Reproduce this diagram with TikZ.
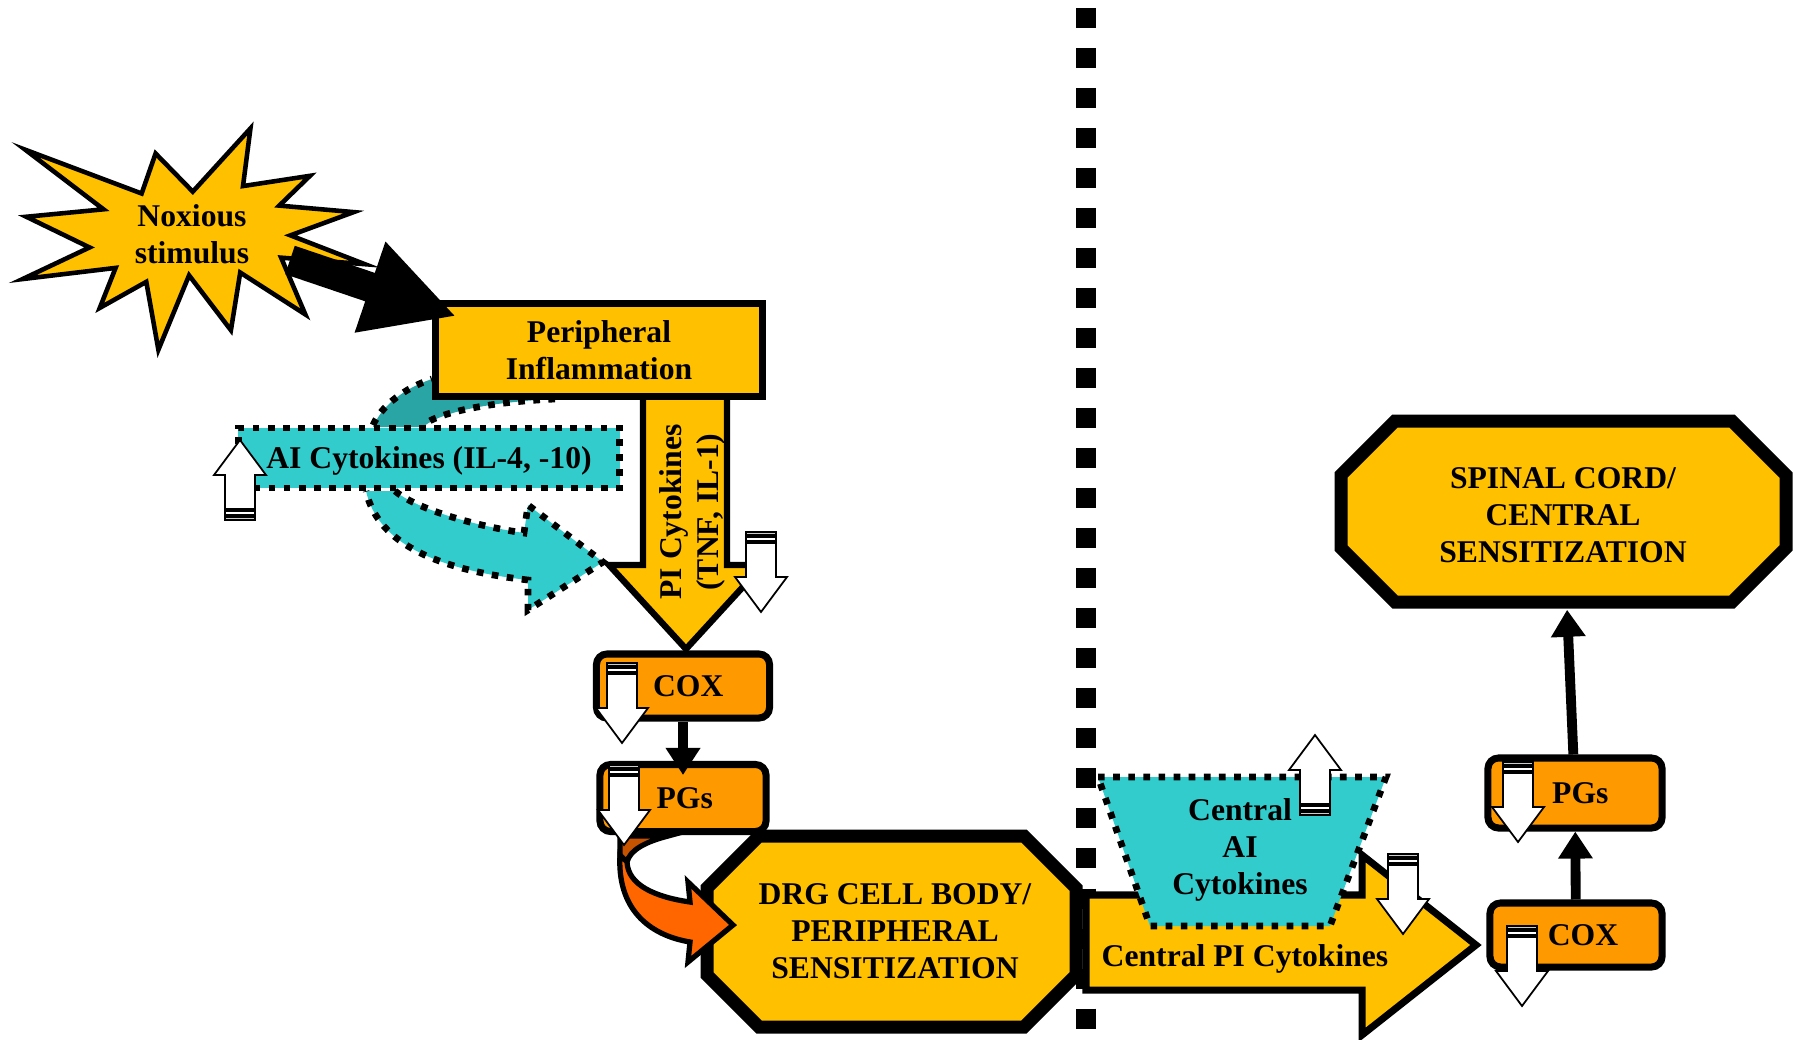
\documentclass[tikz,border=0pt]{standalone}
\usepackage{fontspec}
\setmainfont{Liberation Serif}
\usepackage{xcolor}
\usetikzlibrary{arrows.meta}

\definecolor{amber}{HTML}{FFC000}
\definecolor{coxorange}{HTML}{FF9900}
\definecolor{aicyan}{HTML}{33CCCC}
\definecolor{aiteal}{HTML}{2AA5A5}
\definecolor{curveorange}{HTML}{FF6600}
\definecolor{curvedark}{HTML}{C65300}

\tikzset{
  lbl/.style={font=\bfseries\fontsize{9}{10.5}\selectfont,align=center,inner sep=0pt},
  goldbox/.style={draw,fill=amber,line width=1.8pt},
  orangebox/.style={lbl,draw,fill=coxorange,line width=2pt,rounded corners=3pt},
  dotline/.style={line width=1.9pt,dash pattern=on 1.9pt off 2.4pt},
  octo/.style={draw,fill=amber,line width=3.7pt},
  blkarrow/.style={line width=2.8pt,-{Triangle[length=0.27cm,width=0.33cm]}},
  lvlarrow/.pic={
    \draw[fill=gray!40,line width=0.5pt] (-15,0) rectangle (15,3);
    \draw[fill=white,line width=0.5pt] (-15,5) rectangle (15,9);
    \draw[fill=white,line width=0.5pt] (-15,11) -- (15,11) -- (15,45) -- (26,45)
      -- (0,80) -- (-26,45) -- (-15,45) -- cycle;
  }
}

\begin{document}
\begin{tikzpicture}[x=0.01cm,y=-0.01cm,line join=miter]
  \useasboundingbox (0,0) rectangle (1800,1039);

  \draw[line width=0.2cm,dash pattern=on 0.2cm off 0.2cm] (1086,8) -- (1086,1030);

  % noxious stimulus
  \draw[fill=amber,line width=1.3pt,scale around={0.93:(190,240)}]
    (13,143) -- (138,190) -- (153,147) -- (193,188)
    -- (255,120) -- (247,182) -- (319,171) -- (286,203) -- (366,210) -- (298,235)
    -- (378,266) -- (288,259) -- (314,320) -- (244,275) -- (234,337) -- (189,278)
    -- (156,358) -- (143,285) -- (93,313) -- (110,270) -- (10,282) -- (82,248)
    -- (14,215) -- (97,207) -- cycle;
  \node[lbl] (noxious) at (192,234) {Noxious\\stimulus};

  % peripheral side
  \draw[goldbox] (643,390) -- (643,565) -- (609,565) -- (686,649) -- (763,565)
    -- (727,565) -- (727,390) -- cycle;
  \fill[aiteal] (373,427) .. controls (382,405) and (405,388) .. (432,379)
    -- (432,370) -- (560,370) -- (560,399) -- (555,399)
    .. controls (490,402) and (440,412) .. (423,427) -- cycle;
  \draw[dotline] (373,425) .. controls (382,405) and (405,388) .. (432,379);
  \draw[dotline] (555,399) .. controls (490,402) and (440,412) .. (423,425);
  \filldraw[fill=aicyan,dotline] (395,491) .. controls (415,508) and (470,525) .. (524,533)
    -- (528,505) -- (603,562) -- (528,610) -- (528,580)
    .. controls (440,570) and (378,545) .. (366,491);
  \node[lbl,draw,fill=aicyan,dotline,minimum width=3.81cm,minimum height=0.6cm,text depth=0pt]
    (aicyto) at (429,458) {AI Cytokines (IL-4, -10)};
  \node[lbl,goldbox,minimum width=3.27cm,minimum height=0.93cm]
    (periph) at (599,350) {Peripheral\\Inflammation};
  \coordinate (stimtail) at (290,260);
  \draw[line width=0.3cm,-{Triangle[length=0.91cm,width=0.89cm]}]
    (stimtail) -- ([xshift=0.24cm,yshift=-0.16cm]periph.north west);
  \node[lbl,rotate=90] (picyto) at (692,512) {PI Cytokines\\(TNF, IL-1)};

  \node[orangebox,minimum width=1.73cm,minimum height=0.64cm] (coxL) at (683,686) {\hspace*{3pt}COX};
  \node[orangebox,minimum width=1.66cm,minimum height=0.67cm] (pgsL) at (683,798) {\hspace*{1pt}PGs};
  \draw[blkarrow,shorten >=-0.14cm] (coxL) -- (pgsL);

  \draw[octo] (707,888) -- (759,836) -- (1024,836) -- (1076,888) -- (1076,975)
    -- (1024,1027) -- (759,1027) -- (707,975) -- cycle;
  \node[lbl] (drg) at (895,931) {DRG CELL BODY/\\PERIPHERAL\\SENSITIZATION};

  \draw[fill=curvedark,line width=1.5pt] (620,836) -- (668,836)
    .. controls (645,842) and (630,850) .. (627,862) -- (620,862) -- cycle;
  \draw[fill=curveorange,line width=1.5pt] (620,855) .. controls (617,908) and (648,935) .. (690,942)
    -- (688,962) -- (733,925) -- (688,882) -- (690,902)
    .. controls (655,897) and (628,885) .. (627,862) -- cycle;

  % central side
  \draw[goldbox,line width=2pt] (1086,895) -- (1362,895) -- (1362,855) -- (1476,945)
    -- (1362,1035) -- (1362,990) -- (1086,990) -- cycle;
  \node[lbl] (cpicyto) at (1245,959) {Central PI Cytokines};
  \filldraw[fill=aicyan,dotline] (1098,777) -- (1386,777) -- (1330,926) -- (1150,926) -- cycle;
  \node[lbl] (caicyto) at (1240,850) {Central\\AI\\Cytokines};

  \node[orangebox,minimum width=1.72cm,minimum height=0.64cm] (coxR) at (1576,935) {\hspace*{4pt}COX};
  \node[orangebox,minimum width=1.74cm,minimum height=0.70cm] (pgsR) at (1575,793) {\hspace*{3pt}PGs};
  \draw[octo] (1341,475) -- (1395,421) -- (1732,421) -- (1786,475) -- (1786,548)
    -- (1732,602) -- (1395,602) -- (1341,548) -- cycle;
  \node[lbl,minimum width=4.4cm,minimum height=1.88cm] (spinal) at (1563,515)
    {SPINAL CORD/\\CENTRAL\\SENSITIZATION};
  \draw[blkarrow] (coxR) -- (pgsR);
  \draw[blkarrow] (pgsR) -- (spinal);

  % up / down markers
  \foreach \x/\y in {761/532,622/663,624/765,1403/854,1518/762,1522/926}
    \pic at (\x,\y) {lvlarrow};
  \foreach \x/\y in {240/520,1315/815}
    \pic[rotate=180] at (\x,\y) {lvlarrow};
\end{tikzpicture}
\end{document}
